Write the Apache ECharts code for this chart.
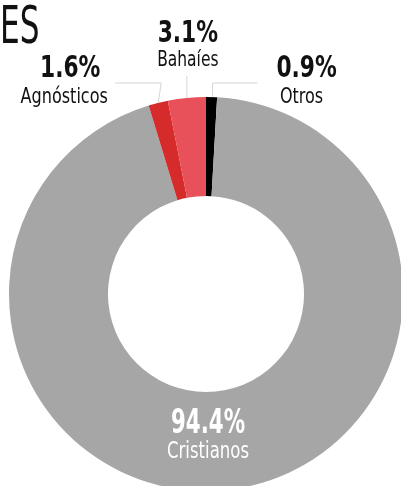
<!DOCTYPE html>
<html>
<head>
<meta charset="utf-8">
<script src="https://cdn.jsdelivr.net/npm/echarts@6/dist/echarts.min.js"></script>
<style>
  html, body { margin: 0; padding: 0; background: #fff; }
  #main { width: 401px; height: 486px; }
</style>
</head>
<body>
<div id="main"></div>
<script>
// datos
const categories = ['Otros', 'Cristianos', 'Agnósticos', 'Bahaíes'];
const shares = [0.9, 94.4, 1.6, 3.1];
const sliceColors = ['#000000', '#a6a6a6', '#d52b2b', '#e9515a'];
const titleText = 'ES';

const FONT = "'DejaVu Sans Condensed', 'Liberation Sans Narrow', sans-serif";
const CX = 206, CY = 294, R0 = 98, R1 = 197;
const total = shares.reduce((a, b) => a + b, 0);

// angulo medio de cada porcion (grados, horario desde arriba)
function midAngle(i) {
  let before = 0;
  for (let k = 0; k < i; k++) before += shares[k];
  return 90 - 360 * (before + shares[i] / 2) / total;
}
function pointAt(i, r) {
  const a = midAngle(i) * Math.PI / 180;
  return [CX + r * Math.cos(a), CY - r * Math.sin(a)];
}

// texto estrecho (la fuente original es condensada)
function label(text, x, y, size, bold, color, sx) {
  return {
    type: 'text', x: x, y: y, z: 100, scaleX: sx,
    style: {
      text: text,
      font: (bold ? 'bold ' : '') + size + 'px ' + FONT,
      fill: color, align: 'center', verticalAlign: 'middle'
    }
  };
}

function line(points) {
  return { type: 'polyline', z: 100, shape: { points: points },
    style: { stroke: '#d4d4d4', lineWidth: 1, fill: null } };
}

const graphics = [{
  type: 'text', x: 0, y: 4, z: 100, scaleX: 0.68,
  style: { text: titleText, font: '51px ' + FONT, fill: '#111' }
}];

categories.forEach((name, i) => {
  const pct = shares[i].toFixed(1) + '%';
  const a = pointAt(i, R1);
  if (name === 'Cristianos') {
    graphics.push(label(pct, CX + 2, 424, 33, true, '#fff', 0.72));
    graphics.push(label(name, CX + 2, 452, 23, false, '#fff', 0.8));
  } else if (name === 'Bahaíes') {
    graphics.push(label(pct, a[0] + 1, 34, 31, true, '#111', 0.78));
    graphics.push(label(name, a[0] + 1, 61, 21, false, '#111', 0.82));
    graphics.push(line([a, [a[0], 76]]));
  } else if (name === 'Agnósticos') {
    graphics.push(label(pct, a[0] - 88, 69, 31, true, '#111', 0.78));
    graphics.push(label(name, a[0] - 94, 98, 21, false, '#111', 0.85));
    graphics.push(line([a, [a[0] + 3, 83], [a[0] - 43, 83]]));
  } else {
    graphics.push(label(pct, a[0] + 95, 69, 31, true, '#111', 0.78));
    graphics.push(label(name, a[0] + 90, 98, 21, false, '#111', 0.85));
    graphics.push(line([[a[0] + 1, a[1]], [a[0] + 1, 83], [a[0] + 46, 83]]));
  }
});

const myChart = echarts.init(document.getElementById('main'));

const option = {
  animation: false,
  graphic: graphics,
  series: [{
    type: 'pie',
    silent: true,
    center: [CX, CY],
    radius: [R0, R1],
    startAngle: 90,
    clockwise: true,
    avoidLabelOverlap: false,
    label: { show: false },
    labelLine: { show: false },
    data: categories.map((name, i) => ({
      name: name,
      value: shares[i],
      itemStyle: { color: sliceColors[i] }
    }))
  }]
};

myChart.setOption(option);
</script>
</body>
</html>
